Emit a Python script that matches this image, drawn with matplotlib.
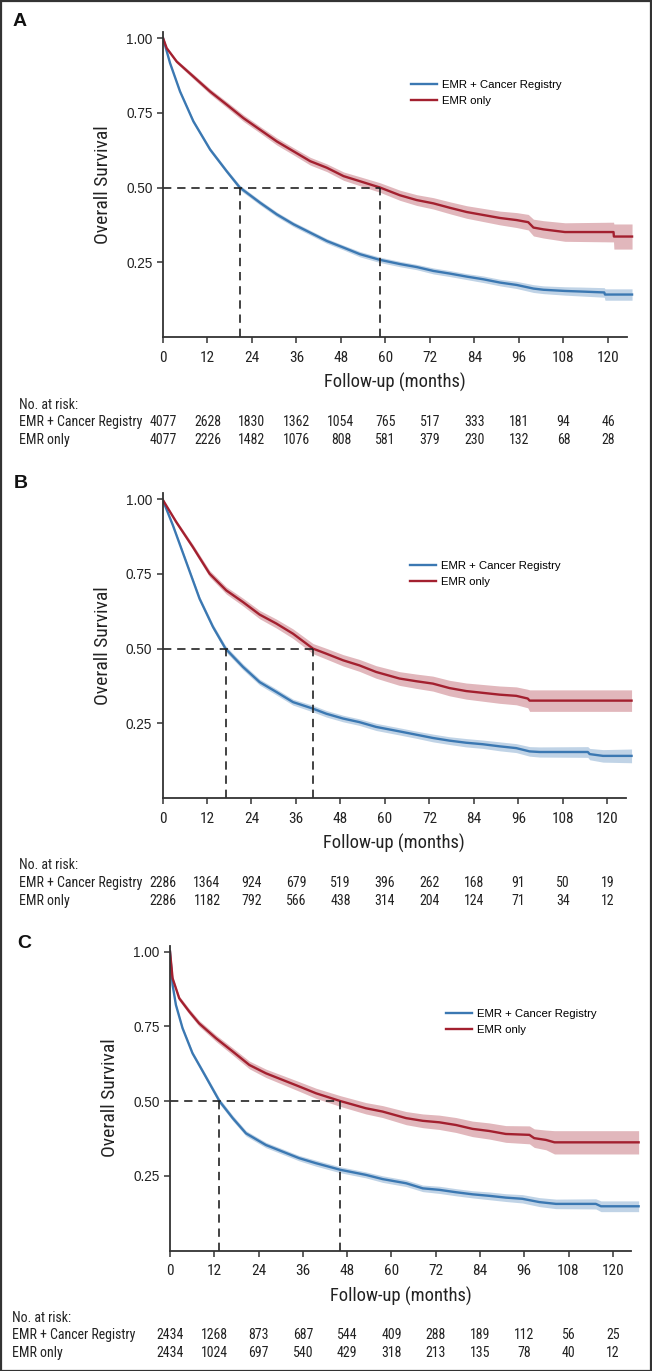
import numpy as np
import matplotlib
matplotlib.use("Agg")
import matplotlib.pyplot as plt
from matplotlib import font_manager
from matplotlib.patches import Rectangle

# Kaplan-Meier curves (months, survival, CI half width)
groups = ["EMR + Cancer Registry", "EMR only"]
xticks = [0, 12, 24, 36, 48, 60, 72, 84, 96, 108, 120]
yticks = [0.25, 0.50, 0.75, 1.00]

# Panel A
a_reg_m = [0, 1.9, 4.6, 8.2, 12.7, 17.2, 20.7, 26.2, 30.7, 35.2, 39.7, 44.2, 48.7, 53.1, 58.5,
           63.9, 68.4, 72.9, 77.4, 81.9, 86.4, 90.9, 95.4, 99.9, 102.6, 108.4, 112.9, 119.0, 119.2, 126.5]
a_reg_s = [1.0, 0.916, 0.821, 0.721, 0.627, 0.554, 0.50, 0.449, 0.41, 0.377, 0.349, 0.321, 0.299, 0.277, 0.258,
           0.244, 0.234, 0.221, 0.212, 0.202, 0.193, 0.182, 0.174, 0.162, 0.158, 0.154, 0.152, 0.149, 0.142, 0.142]
a_reg_ci = [0, 0.004, 0.005, 0.006, 0.007, 0.007, 0.008, 0.008, 0.008, 0.008, 0.008, 0.008, 0.008, 0.009, 0.009,
            0.009, 0.009, 0.01, 0.01, 0.01, 0.011, 0.011, 0.012, 0.013, 0.013, 0.014, 0.015, 0.016, 0.019, 0.019]
a_emr_m = [0, 1.0, 3.7, 8.2, 12.7, 17.2, 21.7, 26.2, 30.7, 35.2, 39.7, 44.2, 48.7, 53.1, 58.5,
           63.9, 68.4, 72.9, 77.4, 81.9, 86.4, 90.9, 95.4, 98.5, 99.9, 102.6, 108.4, 121.5, 121.6, 126.5]
a_emr_s = [1.0, 0.966, 0.921, 0.871, 0.821, 0.777, 0.732, 0.693, 0.654, 0.621, 0.588, 0.566, 0.538, 0.521, 0.50,
           0.474, 0.458, 0.447, 0.432, 0.418, 0.408, 0.398, 0.391, 0.384, 0.366, 0.36, 0.351, 0.351, 0.336, 0.336]
a_emr_ci = [0, 0.004, 0.006, 0.008, 0.009, 0.01, 0.011, 0.011, 0.012, 0.012, 0.013, 0.013, 0.014, 0.015, 0.016,
            0.017, 0.018, 0.019, 0.02, 0.021, 0.022, 0.023, 0.025, 0.026, 0.028, 0.029, 0.031, 0.033, 0.042, 0.042]
a_medians = [20.7, 58.5]
a_risk_reg = [4077, 2628, 1830, 1362, 1054, 765, 517, 333, 181, 94, 46]
a_risk_emr = [4077, 2226, 1482, 1076, 808, 581, 379, 230, 132, 68, 28]

# Panel B
b_reg_m = [0, 2.8, 6.4, 10.0, 13.6, 17.0, 21.7, 26.2, 30.7, 35.2, 40.6, 44.2, 48.7, 53.1, 57.6,
           63.9, 68.4, 72.9, 77.4, 81.9, 86.4, 90.9, 95.4, 99.0, 101.7, 114.7, 115.2, 118.8, 126.5]
b_reg_s = [1.0, 0.913, 0.79, 0.667, 0.573, 0.50, 0.439, 0.388, 0.355, 0.321, 0.299, 0.282, 0.266, 0.254, 0.238,
           0.223, 0.212, 0.201, 0.192, 0.185, 0.18, 0.173, 0.167, 0.156, 0.154, 0.154, 0.147, 0.141, 0.141]
b_reg_ci = [0, 0.005, 0.007, 0.008, 0.009, 0.01, 0.01, 0.01, 0.01, 0.01, 0.011, 0.011, 0.011, 0.011, 0.012,
            0.012, 0.012, 0.013, 0.013, 0.014, 0.014, 0.015, 0.015, 0.016, 0.017, 0.018, 0.019, 0.021, 0.023]
b_emr_m = [0, 3.7, 8.2, 12.7, 17.2, 21.7, 26.2, 30.7, 35.2, 40.6, 44.2, 48.7, 53.1, 57.6,
           63.9, 68.4, 72.9, 77.4, 81.9, 86.4, 90.9, 95.4, 98.5, 99.0, 126.5]
b_emr_s = [1.0, 0.924, 0.84, 0.751, 0.695, 0.656, 0.614, 0.584, 0.55, 0.50, 0.483, 0.461, 0.444, 0.422,
           0.40, 0.391, 0.383, 0.368, 0.358, 0.352, 0.346, 0.342, 0.333, 0.326, 0.326]
b_emr_ci = [0, 0.007, 0.009, 0.011, 0.012, 0.013, 0.014, 0.015, 0.016, 0.017, 0.018, 0.019, 0.02, 0.021,
            0.023, 0.024, 0.025, 0.026, 0.027, 0.028, 0.029, 0.03, 0.031, 0.036, 0.036]
b_medians = [17.0, 40.6]
b_risk_reg = [2286, 1364, 924, 679, 519, 396, 262, 168, 91, 50, 19]
b_risk_emr = [2286, 1182, 792, 566, 438, 314, 204, 124, 71, 34, 12]

# Panel C
c_reg_m = [0, 0.7, 1.6, 3.4, 6.1, 8.9, 13.4, 17.0, 20.6, 26.0, 30.5, 35.0, 39.6, 46.2, 53.1,
           57.6, 64.0, 68.5, 73.0, 77.5, 82.0, 86.5, 91.0, 95.5, 100.1, 104.6, 115.4, 116.8, 127.0]
c_reg_s = [1.0, 0.889, 0.822, 0.744, 0.66, 0.599, 0.50, 0.443, 0.392, 0.353, 0.331, 0.309, 0.292, 0.27, 0.253,
           0.239, 0.225, 0.208, 0.203, 0.195, 0.188, 0.183, 0.177, 0.173, 0.162, 0.156, 0.156, 0.148, 0.148]
c_reg_ci = [0, 0.004, 0.005, 0.006, 0.007, 0.008, 0.009, 0.009, 0.009, 0.009, 0.009, 0.009, 0.01, 0.01, 0.01,
            0.011, 0.011, 0.011, 0.012, 0.012, 0.012, 0.013, 0.013, 0.014, 0.015, 0.016, 0.017, 0.018, 0.018]
c_emr_m = [0, 0.7, 2.5, 5.2, 7.9, 12.5, 17.0, 21.5, 26.0, 30.5, 35.0, 39.6, 46.2, 53.1,
           57.6, 64.0, 68.5, 73.0, 77.5, 82.0, 86.5, 91.0, 97.4, 98.7, 101.9, 104.2, 127.0]
c_emr_s = [1.0, 0.911, 0.844, 0.80, 0.76, 0.71, 0.666, 0.621, 0.593, 0.571, 0.549, 0.526, 0.50, 0.476,
           0.465, 0.443, 0.434, 0.429, 0.42, 0.407, 0.40, 0.39, 0.387, 0.376, 0.37, 0.362, 0.362]
c_emr_ci = [0, 0.006, 0.008, 0.009, 0.01, 0.011, 0.012, 0.013, 0.014, 0.015, 0.016, 0.017, 0.018, 0.019,
            0.02, 0.022, 0.023, 0.024, 0.025, 0.026, 0.027, 0.028, 0.03, 0.031, 0.033, 0.039, 0.039]
c_medians = [13.4, 46.2]
c_risk_reg = [2434, 1268, 873, 687, 544, 409, 288, 189, 112, 56, 25]
c_risk_emr = [2434, 1024, 697, 540, 429, 318, 213, 135, 78, 40, 12]

BLUE = "#3b78b2"
RED = "#a3202f"
INK = "#222222"
REG = ["Liberation Sans", "DejaVu Sans"]


# look for a narrow / condensed regular font, the original uses one for axis text
def find_narrow():
    prefs = ["liberation sans narrow", "roboto condensed", "noto sans", "dejavu sans", "open sans", "lato"]
    found = []
    for f in font_manager.fontManager.ttflist:
        fn = f.fname.lower()
        if f.stretch != "condensed" and "narrow" not in fn and "condensed" not in fn:
            continue
        if any(w in fn for w in ["extra", "semi", "ultra", "bold", "italic", "light", "medium", "black", "thin"]):
            continue
        if f.style != "normal" or f.weight not in (400, "normal", "regular"):
            continue
        nm = f.name.lower()
        rank = len(prefs)
        for i, p in enumerate(prefs):
            if nm.startswith(p):
                rank = i
                break
        found.append((rank, f.fname))
    if not found:
        return None
    found.sort()
    return found[0][1]


narrow_path = find_narrow()


def nfont(size):
    # condensed font if there is one, else a smaller plain sans so widths match
    if narrow_path:
        return font_manager.FontProperties(fname=narrow_path, size=size)
    return font_manager.FontProperties(family="Liberation Sans", size=size * 0.82)


W, H = 652, 1371
fig = plt.figure(figsize=(W / 100, H / 100), dpi=100)


def fx(px):
    return px / W


def fy(py):
    return 1 - py / H


panels = [
    dict(letter="A", left=163, bottom=337, ppm=3.708, top1=38, lx=13, ly=22, legx=411, legy=80,
         labx=19, riskys=(405, 422, 440), data=(a_reg_m, a_reg_s, a_reg_ci, a_emr_m, a_emr_s, a_emr_ci,
                                                 a_medians, a_risk_reg, a_risk_emr)),
    dict(letter="B", left=162.5, bottom=798, ppm=3.708, top1=499.3, lx=14, ly=483, legx=410, legy=561,
         labx=19, riskys=(865, 883, 901), data=(b_reg_m, b_reg_s, b_reg_ci, b_emr_m, b_emr_s, b_emr_ci,
                                                b_medians, b_risk_reg, b_risk_emr)),
    dict(letter="C", left=170, bottom=1250.5, ppm=3.69, top1=951.7, lx=17, ly=943, legx=446, legy=1009,
         labx=12, riskys=(1318, 1335, 1353), data=(c_reg_m, c_reg_s, c_reg_ci, c_emr_m, c_emr_s, c_emr_ci,
                                                   c_medians, c_risk_reg, c_risk_emr)),
]

XMAX = 127.5
YMAX = 1.02

for p in panels:
    reg_m, reg_s, reg_ci, emr_m, emr_s, emr_ci, medians, risk_reg, risk_emr = p["data"]
    ppu = p["bottom"] - p["top1"]
    width = XMAX * p["ppm"]
    height = YMAX * ppu
    ax = fig.add_axes([fx(p["left"]), fy(p["bottom"]), fx(width), height / H])

    for m, s, ci, col, lab in [(reg_m, reg_s, reg_ci, BLUE, groups[0]),
                               (emr_m, emr_s, emr_ci, RED, groups[1])]:
        m = np.array(m)
        s = np.array(s)
        ci = np.array(ci)
        ax.fill_between(m, s - ci, s + ci, color=col, alpha=0.32, lw=0)
        ax.plot(m, s, color=col, lw=1.7, label=lab)

    # median survival guides
    ax.plot([0, max(medians)], [0.5, 0.5], color=INK, lw=1.2, ls=(0, (5, 3.5)))
    for md in medians:
        ax.plot([md, md], [0, 0.5], color=INK, lw=1.2, ls=(0, (5, 3.5)))

    ax.set_xlim(0, XMAX)
    ax.set_ylim(0, YMAX)
    ax.spines["top"].set_visible(False)
    ax.spines["right"].set_visible(False)
    for sp in ["left", "bottom"]:
        ax.spines[sp].set_linewidth(1.3)
        ax.spines[sp].set_color("#333333")
    ax.spines["bottom"].set_bounds(0, 125)
    ax.set_xticks(xticks)
    ax.set_yticks(yticks)
    ax.set_yticklabels(["%.2f" % v for v in yticks], family=REG, fontsize=9.8, color=INK)
    ax.set_xticklabels([str(v) for v in xticks], fontproperties=nfont(11), color=INK)
    ax.tick_params(axis="both", direction="out", length=4, width=1.1, color="#333333")
    ax.tick_params(axis="y", pad=3.5)
    ax.tick_params(axis="x", pad=6)
    ax.set_ylabel("Overall Survival", fontproperties=nfont(14), color=INK)
    ax.yaxis.set_label_coords(-51 / width, 0.5)
    ax.set_xlabel("Follow-up (months)", fontproperties=nfont(13.3), color=INK)
    ax.xaxis.set_label_coords(62.5 / XMAX, -36 / height)

    ax.legend(loc="upper left", bbox_to_anchor=(fx(p["legx"]), fy(p["legy"])),
              bbox_transform=fig.transFigure, frameon=False, prop=dict(family=REG, size=8.2),
              handlelength=2.3, handletextpad=0.45, labelspacing=0.5, borderpad=0, borderaxespad=0)

    fig.text(fx(p["lx"]), fy(p["ly"]), p["letter"], fontsize=14, fontweight="bold",
             family=REG, va="center", ha="left", color="#111111")

    # number at risk table
    y0, y1, y2 = p["riskys"]
    fig.text(fx(p["labx"]), fy(y0), "No. at risk:", fontproperties=nfont(10), va="center", color=INK)
    fig.text(fx(p["labx"]), fy(y1), groups[0], fontproperties=nfont(10), va="center", color=INK)
    fig.text(fx(p["labx"]), fy(y2), groups[1], fontproperties=nfont(10), va="center", color=INK)
    for t, n1, n2 in zip(xticks, risk_reg, risk_emr):
        xp = p["left"] + t * p["ppm"]
        fig.text(fx(xp), fy(y1), str(n1), fontproperties=nfont(10), ha="center", va="center", color=INK)
        fig.text(fx(xp), fy(y2), str(n2), fontproperties=nfont(10), ha="center", va="center", color=INK)

# outer frame
fig.patches.append(Rectangle((0.5 / W, 0.5 / H), 1 - 1.5 / W, 1 - 1.5 / H, transform=fig.transFigure,
                             fill=False, lw=1.6, ec="#333333"))

fig.savefig("out.png", dpi=100)
